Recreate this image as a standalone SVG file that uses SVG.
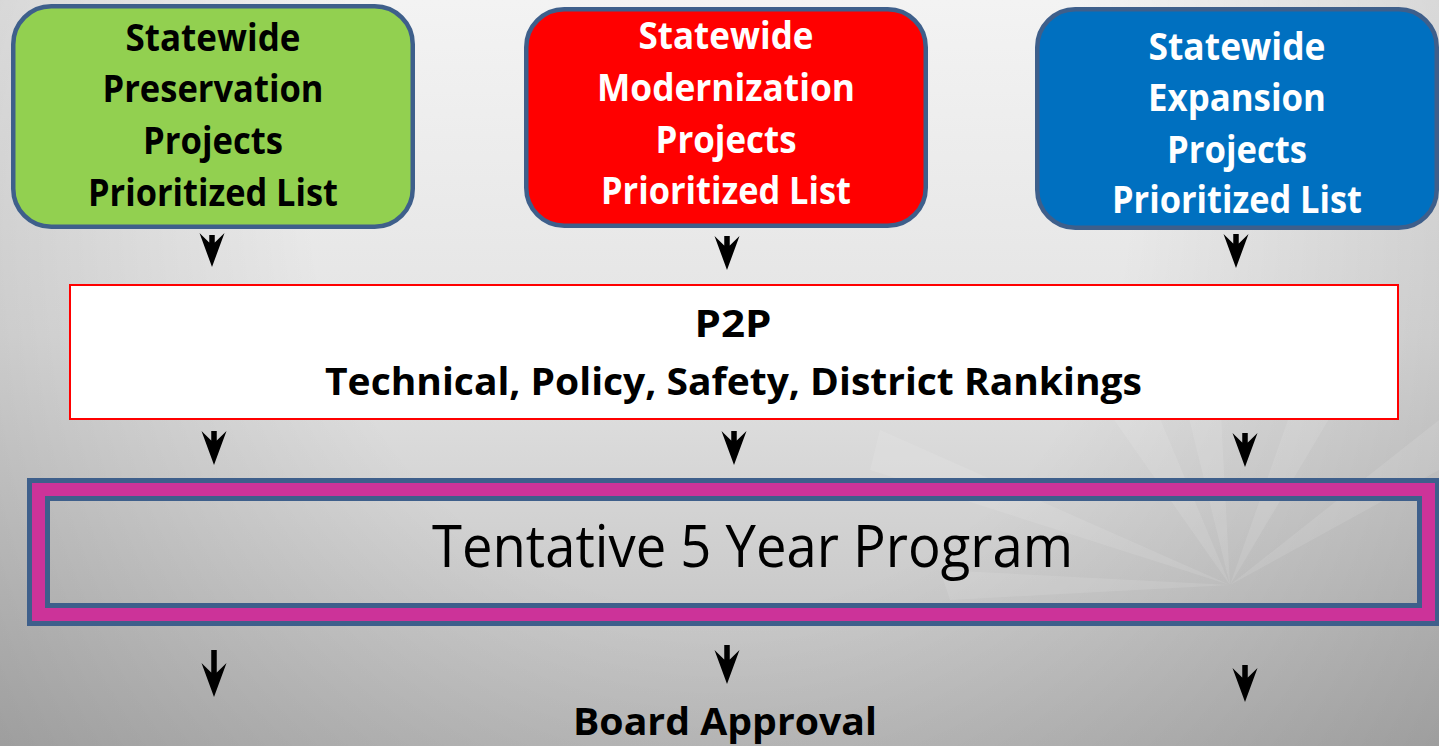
<svg xmlns="http://www.w3.org/2000/svg" xmlns:xlink="http://www.w3.org/1999/xlink" width="1439" height="746" viewBox="0 0 1439 746">
<defs>
<linearGradient id="bg" x1="0" y1="0" x2="0" y2="1">
<stop offset="0" stop-color="#f3f3f3"/>
<stop offset="0.45" stop-color="#e4e4e4"/>
<stop offset="1" stop-color="#bcbcbc"/>
</linearGradient>
<radialGradient id="vig" cx="720" cy="200" r="900" gradientUnits="userSpaceOnUse">
<stop offset="0.45" stop-color="#000" stop-opacity="0"/>
<stop offset="1" stop-color="#000" stop-opacity="0.16"/>
</radialGradient>
<path id="head" d="M0,34 L-12.5,0 L-2.8,9.5 L2.8,9.5 L12.5,0 Z"/>
<style>
.box{stroke:#3e5f8b;stroke-width:4.5}
.bt{font-family:"Open Sans","Liberation Sans",sans-serif;font-weight:bold;font-size:38px;text-anchor:middle}
.stem{stroke:#000;stroke-width:5.5}
.hd{fill:#000}
.ray{fill:#fff;opacity:0.1}
</style>
</defs>
<rect width="1439" height="746" fill="url(#bg)"/>
<rect width="1439" height="746" fill="url(#vig)"/>
<g id="rays">
<polygon class="ray" points="1230,585 1030,300 1110,300"/>
<polygon class="ray" points="1230,585 1160,300 1215,300"/>
<polygon class="ray" points="1230,585 1330,300 1400,300"/>
<polygon class="ray" points="1230,585 880,430 870,470"/>
<polygon class="ray" points="1230,585 1439,420 1439,470"/>
<polygon class="ray" points="1230,585 940,570 950,600"/>
</g>

<g id="preservation">
<rect class="box" x="13.25" y="6.25" width="399.5" height="220.5" rx="38" fill="#92d050"/>
<g class="bt" fill="#000">
<text x="213" y="51" textLength="175" lengthAdjust="spacingAndGlyphs">Statewide</text>
<text x="213" y="102" textLength="221" lengthAdjust="spacingAndGlyphs">Preservation</text>
<text x="213" y="154" textLength="140" lengthAdjust="spacingAndGlyphs">Projects</text>
<text x="213" y="206" textLength="250" lengthAdjust="spacingAndGlyphs">Prioritized List</text>
</g>
</g>

<g id="modernization">
<rect class="box" x="526.25" y="9.25" width="399.5" height="216.5" rx="38" fill="#ff0000"/>
<g class="bt" fill="#fff">
<text x="726" y="49" textLength="175" lengthAdjust="spacingAndGlyphs">Statewide</text>
<text x="726" y="101" textLength="258" lengthAdjust="spacingAndGlyphs">Modernization</text>
<text x="726" y="153" textLength="141" lengthAdjust="spacingAndGlyphs">Projects</text>
<text x="726" y="204" textLength="250" lengthAdjust="spacingAndGlyphs">Prioritized List</text>
</g>
</g>

<g id="expansion">
<rect class="box" x="1037.25" y="9.25" width="399.5" height="218.5" rx="38" fill="#0070c0"/>
<g class="bt" fill="#fff">
<text x="1237" y="60" textLength="177" lengthAdjust="spacingAndGlyphs">Statewide</text>
<text x="1237" y="111" textLength="178" lengthAdjust="spacingAndGlyphs">Expansion</text>
<text x="1237" y="163" textLength="140" lengthAdjust="spacingAndGlyphs">Projects</text>
<text x="1237" y="213" textLength="250" lengthAdjust="spacingAndGlyphs">Prioritized List</text>
</g>
</g>

<g id="p2p">
<rect x="70" y="285" width="1328" height="134" fill="#fff" stroke="#ff0000" stroke-width="2"/>
<g class="bt" fill="#000">
<text x="733" y="337" textLength="77" lengthAdjust="spacingAndGlyphs">P2P</text>
<text x="733.5" y="395" textLength="817" lengthAdjust="spacingAndGlyphs">Technical, Policy, Safety, District Rankings</text>
</g>
</g>

<g id="tentative">
<rect x="29.5" y="480.5" width="1408" height="143" fill="none" stroke="#3e5f8b" stroke-width="5"/>
<rect x="38.5" y="489.5" width="1390" height="125" fill="none" stroke="#cc3399" stroke-width="13"/>
<rect x="47.5" y="498.5" width="1372" height="107" fill="none" stroke="#3e5f8b" stroke-width="5"/>
<text x="752.5" y="567" font-family="'Open Sans','Liberation Sans',sans-serif" font-size="59" text-anchor="middle" fill="#000" textLength="641" lengthAdjust="spacingAndGlyphs">Tentative 5 Year Program</text>
</g>

<g id="board">
<text class="bt" x="725" y="735" fill="#000" textLength="304" lengthAdjust="spacingAndGlyphs">Board Approval</text>
</g>

<g id="connectors">
<line class="stem" x1="212" y1="235" x2="212" y2="245"/><use href="#head" class="hd" transform="translate(212,233)"/>
<line class="stem" x1="727" y1="236" x2="727" y2="248"/><use href="#head" class="hd" transform="translate(727,236)"/>
<line class="stem" x1="1236" y1="234" x2="1236" y2="246"/><use href="#head" class="hd" transform="translate(1236,234)"/>
<line class="stem" x1="214" y1="431" x2="214" y2="443"/><use href="#head" class="hd" transform="translate(214,431)"/>
<line class="stem" x1="734" y1="431" x2="734" y2="443"/><use href="#head" class="hd" transform="translate(734,431)"/>
<line class="stem" x1="1245" y1="433" x2="1245" y2="445"/><use href="#head" class="hd" transform="translate(1245,433)"/>
<line class="stem" x1="214" y1="650" x2="214" y2="675"/><use href="#head" class="hd" transform="translate(214,663)"/>
<line class="stem" x1="727" y1="645" x2="727" y2="662"/><use href="#head" class="hd" transform="translate(727,650)"/>
<line class="stem" x1="1245" y1="665" x2="1245" y2="680"/><use href="#head" class="hd" transform="translate(1245,668)"/>
</g>
</svg>
